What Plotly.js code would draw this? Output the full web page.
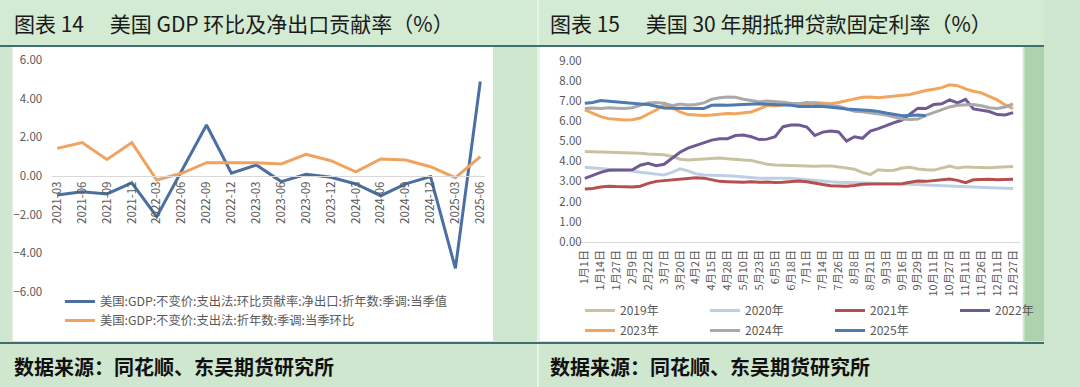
<!DOCTYPE html>
<html><head><meta charset="utf-8">
<script src="https://cdn.plot.ly/plotly-3.0.1.min.js"></script>
<style>html,body{margin:0;padding:0;background:#cfe6cf;overflow:hidden}#chart{width:1080px;height:387px}</style>
</head><body><div id="chart"></div>
<script>
// ---------- data: chart 14 ----------
const gdpQuarters = ['2021-03','2021-06','2021-09','2021-12','2022-03','2022-06','2022-09','2022-12','2023-03','2023-06','2023-09','2023-12','2024-03','2024-06','2024-09','2024-12','2025-03','2025-06'];
const netExportContribution = [-0.98,-0.81,-0.93,-0.35,-2.10,0.25,2.64,0.14,0.57,-0.29,0.09,-0.07,-0.41,-1.02,-0.41,-0.03,-4.78,4.89];
const gdpQoQ = [1.43,1.73,0.86,1.73,-0.21,0.14,0.69,0.69,0.69,0.62,1.12,0.79,0.22,0.88,0.83,0.48,-0.09,1.00];
const seriesNames14 = ['美国:GDP:不变价:支出法:环比贡献率:净出口:折年数:季调:当季值','美国:GDP:不变价:支出法:折年数:季调:当季环比'];

// ---------- data: chart 15 ----------
const dateLabels = ['1月1日','1月14日','1月27日','2月9日','2月22日','3月7日','3月20日','4月2日','4月15日','4月28日','5月10日','5月23日','6月5日','6月18日','7月1日','7月14日','7月26日','8月8日','8月21日','9月3日','9月16日','9月29日','10月11日','10月27日','11月11日','11月26日','12月11日','12月27日'];
const rate2019 = [4.48,4.46,4.45,4.45,4.44,4.43,4.42,4.40,4.36,4.33,4.32,4.24,4.10,4.06,4.08,4.12,4.15,4.16,4.12,4.08,4.06,4.04,3.96,3.85,3.82,3.80,3.78,3.78,3.76,3.75,3.76,3.77,3.72,3.66,3.60,3.45,3.34,3.58,3.54,3.55,3.66,3.70,3.62,3.58,3.56,3.66,3.76,3.66,3.72,3.70,3.68,3.68,3.70,3.72,3.74];
const rate2020 = [3.70,3.66,3.62,3.60,3.58,3.56,3.52,3.45,3.42,3.36,3.32,3.45,3.62,3.52,3.38,3.32,3.30,3.30,3.28,3.26,3.22,3.18,3.16,3.15,3.15,3.14,3.16,3.12,3.08,3.05,3.02,2.98,2.96,2.95,2.96,2.94,2.92,2.90,2.90,2.88,2.87,2.86,2.85,2.82,2.80,2.78,2.76,2.74,2.72,2.70,2.70,2.68,2.67,2.66,2.64];
const rate2021 = [2.62,2.65,2.72,2.76,2.74,2.73,2.72,2.76,2.90,3.00,3.04,3.06,3.10,3.15,3.18,3.16,3.08,3.00,2.98,2.96,2.95,2.98,2.95,2.97,2.94,2.96,3.00,3.02,2.98,2.90,2.84,2.78,2.76,2.76,2.80,2.86,2.87,2.87,2.88,2.86,2.88,2.96,3.02,3.00,3.05,3.09,3.12,3.05,2.94,3.08,3.10,3.10,3.08,3.09,3.11];
const rate2022 = [3.15,3.30,3.45,3.55,3.56,3.55,3.58,3.80,3.90,3.78,3.85,4.15,4.45,4.65,4.78,4.90,5.05,5.12,5.12,5.28,5.30,5.22,5.08,5.10,5.22,5.72,5.80,5.80,5.70,5.28,5.45,5.50,5.46,5.00,5.22,5.14,5.50,5.62,5.78,5.92,6.05,6.35,6.64,6.62,6.82,6.86,7.05,6.90,7.08,6.60,6.55,6.47,6.32,6.30,6.42];
const rate2023 = [6.55,6.40,6.22,6.12,6.08,6.05,6.06,6.15,6.35,6.55,6.80,6.68,6.45,6.32,6.30,6.28,6.30,6.35,6.38,6.36,6.40,6.45,6.60,6.78,6.75,6.82,6.86,6.80,6.84,6.92,6.88,6.86,6.92,7.02,7.10,7.18,7.20,7.16,7.20,7.22,7.25,7.32,7.42,7.52,7.58,7.66,7.80,7.76,7.60,7.48,7.40,7.22,7.05,6.80,6.62];
const rate2024 = [6.62,6.65,6.62,6.66,6.64,6.62,6.66,6.78,6.90,6.92,6.88,6.76,6.85,6.80,6.82,6.90,7.08,7.16,7.20,7.18,7.08,7.02,6.95,7.00,6.98,6.94,6.88,6.86,6.92,6.88,6.80,6.76,6.74,6.60,6.48,6.46,6.40,6.35,6.30,6.20,6.10,6.08,6.10,6.28,6.42,6.55,6.70,6.78,6.80,6.82,6.76,6.66,6.62,6.70,6.85];
const rate2025 = [6.88,6.92,7.02,6.98,6.95,6.92,6.88,6.85,6.82,6.72,6.65,6.64,6.63,6.64,6.63,6.62,6.78,6.80,6.78,6.80,6.83,6.85,6.86,6.84,6.82,6.80,6.78,6.72,6.74,6.73,6.72,6.70,6.65,6.60,6.56,6.55,6.52,6.48,6.40,6.32,6.26,6.28,6.30,6.26];
const yearNames = ['2019年','2020年','2021年','2022年','2023年','2024年','2025年'];

// ---------- styling ----------
const W = 1080, H = 387;
const px = x => x / W, py = y => 1 - y / H;
const FONT = '"Noto Sans CJK SC", "Noto Sans", sans-serif';
const GREY = '#595959';

const rateSeries = [rate2019, rate2020, rate2021, rate2022, rate2023, rate2024, rate2025];
const rateColors = ['#c9c2a1', '#bdcfe5', '#b5504e', '#6f5a94', '#f2a55c', '#a9a9a9', '#4d7ab1'];

const traces = [
  {x: gdpQuarters, y: netExportContribution, name: seriesNames14[0], type: 'scatter', mode: 'lines',
   line: {color: '#4a6fa3', width: 3}, xaxis: 'x', yaxis: 'y', legend: 'legend'},
  {x: gdpQuarters, y: gdpQoQ, name: seriesNames14[1], type: 'scatter', mode: 'lines',
   line: {color: '#f0a35e', width: 3}, xaxis: 'x', yaxis: 'y', legend: 'legend'}
];
rateSeries.forEach((s, k) => {
  traces.push({x: s.map((_, i) => i), y: s, name: yearNames[k], type: 'scatter', mode: 'lines',
    line: {color: rateColors[k], width: 3}, xaxis: 'x2', yaxis: 'y2',
    legend: k < 4 ? 'legend2' : 'legend3'});
});

const yDom1 = [py(292), py(60)];
const zeroPos = yDom1[0] + (0 - (-6)) / 12 * (yDom1[1] - yDom1[0]);

const layout = {
  width: W, height: H,
  margin: {l: 0, r: 0, t: 0, b: 0},
  paper_bgcolor: '#cfe6cf', plot_bgcolor: 'rgba(0,0,0,0)',
  font: {family: FONT, color: GREY, size: 11},
  showlegend: true,
  xaxis: {domain: [px(54), px(502)], anchor: 'free', position: zeroPos, type: 'category',
    range: [-0.2, 17.2], tickangle: -90, tickfont: {size: 11.5, color: GREY},
    showline: true, linecolor: '#d9d9d9', linewidth: 1, showgrid: false, zeroline: false, ticks: ''},
  yaxis: {domain: yDom1, anchor: 'x', range: [-6, 6], dtick: 2, tickformat: '.2f',
    tickfont: {size: 11.5, color: GREY}, showgrid: false, zeroline: false, showline: false, ticks: '',
    ticklabelstandoff: 9},
  xaxis2: {domain: [px(598), px(1055)], anchor: 'y2', range: [-0.85, 54.85],
    tickvals: dateLabels.map((_, k) => 2 * k), ticktext: dateLabels, tickangle: -90,
    tickfont: {size: 11, color: GREY}, showline: true, linecolor: '#d9d9d9', linewidth: 1,
    showgrid: false, zeroline: false, ticks: '', ticklabelstandoff: 3},
  yaxis2: {domain: [py(241.7), py(60.7)], anchor: 'free', position: px(608), range: [0, 9], dtick: 1, tickformat: '.2f',
    tickfont: {size: 11.5, color: GREY}, showgrid: false, zeroline: false, showline: false, ticks: '',
    ticklabelstandoff: 6},
  legend: {x: px(62), y: py(287), xanchor: 'left', yanchor: 'top', orientation: 'v',
    bgcolor: 'rgba(0,0,0,0)', font: {size: 12.3, color: GREY}, itemwidth: 30, tracegroupgap: 0},
  legend2: {x: px(600), y: py(296), xanchor: 'left', yanchor: 'top', orientation: 'h',
    bgcolor: 'rgba(0,0,0,0)', font: {size: 12, color: GREY}, entrywidth: 80, entrywidthmode: 'pixels', itemwidth: 30},
  legend3: {x: px(600), y: py(316), xanchor: 'left', yanchor: 'top', orientation: 'h',
    bgcolor: 'rgba(0,0,0,0)', font: {size: 12, color: GREY}, entrywidth: 80, entrywidthmode: 'pixels', itemwidth: 30},
  shapes: [
    {type: 'rect', xref: 'paper', yref: 'paper', x0: 0, x1: 1, y0: py(46), y1: 1, fillcolor: '#d3ead3', line: {width: 0}, layer: 'below'},
    {type: 'rect', xref: 'paper', yref: 'paper', x0: px(13), x1: px(510), y0: py(341), y1: py(47), fillcolor: '#ffffff', line: {width: 0}, layer: 'below'},
    {type: 'rect', xref: 'paper', yref: 'paper', x0: px(558), x1: px(1058), y0: py(341), y1: py(47), fillcolor: '#ffffff', line: {width: 0}, layer: 'below'},
    {type: 'rect', xref: 'paper', yref: 'paper', x0: px(1060), x1: 1, y0: py(341), y1: py(47), fillcolor: '#add2ad', line: {width: 0}, layer: 'below'},
    {type: 'line', xref: 'paper', yref: 'paper', x0: px(556.5), x1: px(556.5), y0: 0, y1: 1, line: {color: '#eef5ee', width: 1.5}, layer: 'below'},
    {type: 'line', xref: 'paper', yref: 'paper', x0: 0, x1: 1, y0: py(46), y1: py(46), line: {color: '#3e7072', width: 2}, layer: 'below'},
    {type: 'line', xref: 'paper', yref: 'paper', x0: 0, x1: 1, y0: py(343), y1: py(343), line: {color: '#3e7072', width: 2}, layer: 'below'}
  ],
  annotations: [
    {text: '图表 14\u3000 美国 GDP 环比及净出口贡献率（%）', xref: 'paper', yref: 'paper', x: px(12), y: py(23), xanchor: 'left', yanchor: 'middle', showarrow: false, font: {size: 21, color: '#1a1a1a', family: FONT}},
    {text: '图表 15\u3000 美国 30 年期抵押贷款固定利率（%）', xref: 'paper', yref: 'paper', x: px(567), y: py(23), xanchor: 'left', yanchor: 'middle', showarrow: false, font: {size: 21, color: '#1a1a1a', family: FONT}},
    {text: '数据来源：同花顺、东吴期货研究所', xref: 'paper', yref: 'paper', x: px(12), y: py(366), xanchor: 'left', yanchor: 'middle', showarrow: false, font: {size: 20, color: '#111111', family: FONT, weight: 'bold'}},
    {text: '数据来源：同花顺、东吴期货研究所', xref: 'paper', yref: 'paper', x: px(567), y: py(366), xanchor: 'left', yanchor: 'middle', showarrow: false, font: {size: 20, color: '#111111', family: FONT, weight: 'bold'}}
  ]
};

Plotly.newPlot('chart', traces, layout, {staticPlot: true, displayModeBar: false});
</script></body></html>
